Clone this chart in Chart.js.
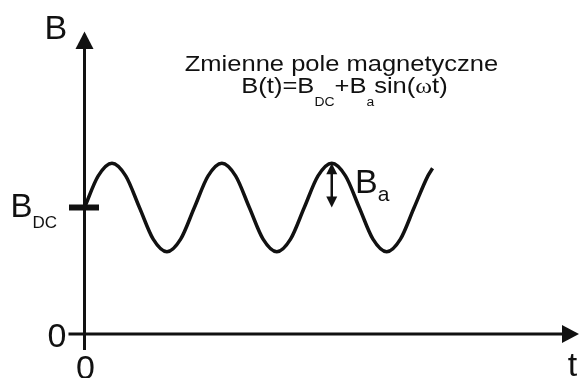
<!DOCTYPE html>
<html>
<head>
<meta charset="utf-8">
<title>Zmienne pole magnetyczne</title>
<script src="https://cdn.jsdelivr.net/npm/chart.js@4.4.1/dist/chart.umd.min.js"></script>
<style>
  html, body { margin: 0; padding: 0; background: #fff; }
  canvas { display: block; }
</style>
</head>
<body>
<canvas id="chart" width="579" height="378"></canvas>
<script>
// time in quarter periods, field in units of B_DC
const time  = [0, 0.5, 1, 1.5, 2, 2.5, 3, 3.5, 4, 4.5, 5, 5.5, 6, 6.5, 7, 7.5, 8, 8.5, 9, 9.5, 10, 10.5, 11, 11.5, 12, 12.5, 12.67];
const field = [1.0, 1.25, 1.35, 1.25, 1.0, 0.75, 0.65, 0.75, 1.0, 1.25, 1.35, 1.25, 1.0, 0.75, 0.65, 0.75, 1.0, 1.25, 1.35, 1.25, 1.0, 0.75, 0.65, 0.75, 1.0, 1.25, 1.31];
const B_DC = 1.0;
const arrowTime = 9;      // peak where the B_a arrow sits
const arrowPeak = 1.35;
const tMax = 18;
const bMax = 2.5;

const INK = '#111';
const SANS = "'Liberation Sans', Arial, sans-serif";
const SERIF = "'Liberation Serif', 'Times New Roman', serif";

// draws a row of text pieces (for subscripts), optionally stretched sideways
function drawRuns(ctx, runs, x, y, align, stretch) {
  stretch = stretch || 1;
  let w = 0;
  runs.forEach(r => { ctx.font = r.font; w += ctx.measureText(r.text).width; });
  let cx = align === 'center' ? -w / 2 : 0;
  ctx.save();
  ctx.translate(x, y);
  ctx.scale(stretch, 1);
  ctx.fillStyle = INK;
  ctx.textAlign = 'left';
  ctx.textBaseline = 'alphabetic';
  runs.forEach(r => {
    ctx.font = r.font;
    ctx.fillText(r.text, cx, r.dy || 0);
    cx += ctx.measureText(r.text).width;
  });
  ctx.restore();
}

function triangle(ctx, pts) {
  ctx.beginPath();
  ctx.moveTo(pts[0][0], pts[0][1]);
  ctx.lineTo(pts[1][0], pts[1][1]);
  ctx.lineTo(pts[2][0], pts[2][1]);
  ctx.closePath();
  ctx.fill();
}

const diagram = {
  id: 'diagram',
  afterDraw(chart) {
    const ctx = chart.ctx;
    const xs = chart.scales.x, ys = chart.scales.y;
    const x0 = xs.getPixelForValue(0);
    const y0 = ys.getPixelForValue(0);
    const yDC = ys.getPixelForValue(B_DC);

    ctx.save();
    ctx.strokeStyle = INK;
    ctx.fillStyle = INK;
    ctx.lineWidth = 3;

    // axes with arrow heads
    ctx.beginPath();
    ctx.moveTo(x0, y0 + 16);
    ctx.lineTo(x0, 46);
    ctx.moveTo(x0 - 16, y0);
    ctx.lineTo(564, y0);
    ctx.stroke();
    triangle(ctx, [[x0, 31.5], [x0 - 9, 49], [x0 + 9, 49]]);
    triangle(ctx, [[579, y0], [562, y0 - 9], [562, y0 + 9]]);

    // B_DC mark on the vertical axis
    ctx.lineWidth = 6;
    ctx.beginPath();
    ctx.moveTo(x0 - 15.5, yDC);
    ctx.lineTo(x0 + 14.5, yDC);
    ctx.stroke();

    // amplitude arrow
    const xa = xs.getPixelForValue(arrowTime);
    const ya1 = ys.getPixelForValue(arrowPeak);
    const ya2 = yDC;
    ctx.lineWidth = 2.5;
    ctx.beginPath();
    ctx.moveTo(xa, ya1 + 8);
    ctx.lineTo(xa, ya2 - 8);
    ctx.stroke();
    triangle(ctx, [[xa, ya1], [xa - 5.5, ya1 + 11], [xa + 5.5, ya1 + 11]]);
    triangle(ctx, [[xa, ya2], [xa - 5.5, ya2 - 11], [xa + 5.5, ya2 - 11]]);
    ctx.restore();

    // labels
    drawRuns(ctx, [{ text: 'B', font: '34px ' + SANS }], 44.5, 39, 'left');
    drawRuns(ctx, [{ text: '0', font: '34px ' + SANS }], 57, 346.5, 'center');
    drawRuns(ctx, [{ text: '0', font: '34px ' + SANS }], 85.5, 378.5, 'center');
    drawRuns(ctx, [{ text: 't', font: '34px ' + SANS }], 572.5, 376, 'center');
    drawRuns(ctx, [
      { text: 'B', font: '33px ' + SANS },
      { text: 'DC', font: '17px ' + SANS, dy: 10.5 }
    ], 10.5, 217, 'left');
    drawRuns(ctx, [
      { text: 'B', font: '34px ' + SANS },
      { text: 'a', font: '21px ' + SANS, dy: 8.5 }
    ], 355, 192.5, 'left');

    // title and formula
    drawRuns(ctx, [{ text: 'Zmienne pole magnetyczne', font: '22px ' + SANS }], 341.5, 71, 'center', 1.16);
    drawRuns(ctx, [
      { text: 'B(t)=B', font: '22px ' + SANS },
      { text: 'DC', font: '12px ' + SANS, dy: 13 },
      { text: '+B', font: '22px ' + SANS },
      { text: 'a', font: '12px ' + SANS, dy: 13 },
      { text: 'sin(', font: '22px ' + SANS },
      { text: '\u03c9', font: '22px ' + SERIF },
      { text: 't)', font: '22px ' + SANS }
    ], 344.5, 93, 'center', 1.16);
  }
};

new Chart('chart', {
  type: 'line',
  data: {
    datasets: [{
      data: time.map((t, i) => ({ x: t, y: field[i] })),
      borderColor: INK,
      borderWidth: 3.5,
      pointRadius: 0,
      fill: false,
      cubicInterpolationMode: 'monotone'
    }]
  },
  options: {
    responsive: false,
    animation: false,
    devicePixelRatio: 1,
    layout: { padding: { left: 84.5, right: 0, top: 17.75, bottom: 44 } },
    plugins: { legend: { display: false }, tooltip: { enabled: false }, title: { display: false } },
    scales: {
      x: { type: 'linear', min: 0, max: tMax, display: false },
      y: { min: 0, max: bMax, display: false }
    }
  },
  plugins: [diagram]
});
</script>
</body>
</html>
